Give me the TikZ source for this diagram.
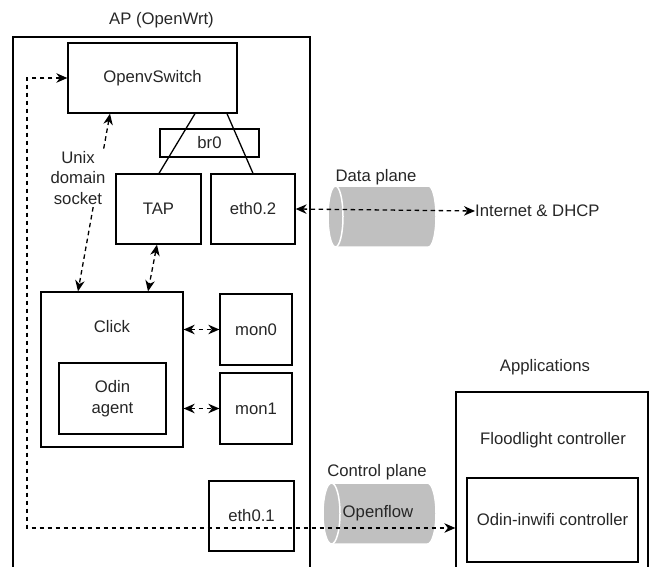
\documentclass[tikz,border=0pt]{standalone}
\usepackage{fontspec}
\setmainfont{Liberation Sans}
\usetikzlibrary{arrows.meta}
\definecolor{txt}{HTML}{262626}
\definecolor{cyl}{HTML}{C0C0C0}
\begin{document}
\begin{tikzpicture}[x=1pt,y=-1pt,
  font=\fontsize{16.7}{20.5}\selectfont, text=txt,
  box/.style={draw, line width=1.3pt, inner sep=0pt, anchor=center},
  lbl/.style={inner sep=0pt, anchor=center, align=center},
  darr/.style={line width=1.3pt, dash pattern=on 4.5pt off 3.5pt,
    {Stealth[length=11pt,width=9.5pt,inset=3.5pt]}-{Stealth[length=11pt,width=9.5pt,inset=3.5pt]}}]
\useasboundingbox (0,0) rectangle (653,567);
\clip (0,0) rectangle (653,567);
% containers
\node[box, minimum width=297pt, minimum height=563pt] (ap) at (161.5,318.5) {};
\node[lbl] (aplbl) at (161.5,20) {AP (OpenWrt)};
\node[box, minimum width=192pt, minimum height=208pt] (apps) at (552,496) {};
\node[lbl] (appslbl) at (545,367) {Applications};
\node[lbl] (flood) at (553,440) {Floodlight controller};
\node[box, minimum width=171pt, minimum height=84pt] (odinc) at (552.5,520) {Odin-inwifi controller};
% AP contents
\node[box, minimum width=169pt, minimum height=70pt] (ovs) at (152.5,78) {OpenvSwitch};
\node[box, minimum width=99pt, minimum height=28pt] (br0) at (209.5,143) {br0};
\node[box, minimum width=85pt, minimum height=70pt] (tap) at (158.5,209) {TAP};
\node[box, minimum width=84pt, minimum height=70pt] (eth02) at (253,209) {eth0.2};
\draw[line width=1.3pt] (195,0 |- ovs.south) -- (159,0 |- tap.north);
\draw[line width=1.3pt] (227,0 |- ovs.south) -- (253,0 |- eth02.north);
\node[box, minimum width=142pt, minimum height=155pt] (click) at (112,369.5) {};
\node[lbl] (clicklbl) at (112,327) {Click};
\node[box, minimum width=107pt, minimum height=71pt, align=center] (agent) at (112.5,398.5) {Odin\\agent};
\node[box, minimum width=72pt, minimum height=71pt] (mon0) at (256,329.5) {mon0};
\node[box, minimum width=72pt, minimum height=71pt] (mon1) at (256,408.5) {mon1};
\node[box, minimum width=85pt, minimum height=70pt] (eth01) at (251.5,516) {eth0.1};
% cylinders
\fill[cyl, draw=white, line width=1.5pt] (335.5,186) -- (428.5,186) arc[start angle=-90, end angle=90, x radius=7.5pt, y radius=-30.5pt] -- (335.5,247) -- cycle;
\filldraw[fill=cyl, draw=white, line width=1.5pt] (335.5,216.5) ellipse[x radius=7.5pt, y radius=30.5pt];
\node[lbl] (dplbl) at (376,177) {Data plane};
\fill[cyl, draw=white, line width=1.5pt] (331.5,483) -- (427.5,483) arc[start angle=-90, end angle=90, x radius=8.5pt, y radius=-30.5pt] -- (331.5,544) -- cycle;
\filldraw[fill=cyl, draw=white, line width=1.5pt] (331.5,513.5) ellipse[x radius=8.5pt, y radius=30.5pt];
\node[lbl] (cplbl) at (377,472) {Control plane};
\node[lbl] (oflbl) at (378,513) {Openflow};
% arrows
\node[inner sep=0pt, anchor=west] (inet) at (475,211) {Internet \& DHCP};
\draw[darr] (eth02.east) -- (inet.west);
\draw[darr] (click.east |- mon0.west) -- (mon0.west);
\draw[darr] (click.east |- mon1.west) -- (mon1.west);
\draw[darr] (157,0 |- tap.south) -- (148,0 |- click.north);
\draw[darr] (110,0 |- ovs.south) -- (78,0 |- click.north);
\node[lbl, fill=white, inner sep=1pt] (unix) at (78,178) {Unix\\domain\\socket};
\coordinate (cp) at (27,528);
\draw[darr] (ovs.west) -| (cp) -- (apps.west |- cp);
\end{tikzpicture}
\end{document}
